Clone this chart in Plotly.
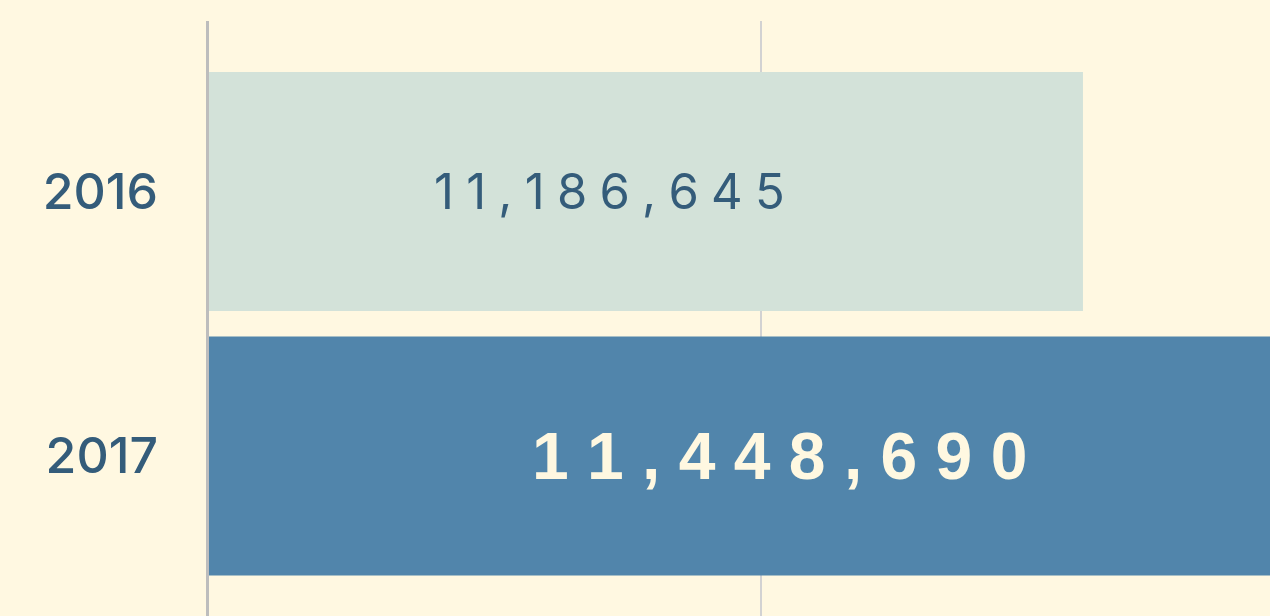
import plotly.graph_objects as go

# ---- data ----
years = ["2016", "2017"]
visitors = [11186645, 11448690]

# ---- styles ----
BG = "#FFF8E1"
BAR_COLORS = ["#D3E2D9", "#5185AB"]
TEXT_COLORS = ["#345C7A", "#FFF8E1"]
TEXT_FONTS = ["Inter", "Liberation Sans"]
TEXT_SIZES = [49, 66]
TEXT_WEIGHTS = ["normal", "bold"]
TEXT_SEPS = ["\u2005", " "]
LABEL_FRAC = [0.458, 0.535]
X_MIN = 10_000_000
X_MAX = 11_440_600
GRID_STEP = 750_000


def spaced(n, sep):
    return sep.join(f"{n:,}")


fig = go.Figure(
    go.Bar(
        y=years,
        x=visitors,
        orientation="h",
        marker=dict(color=BAR_COLORS, line=dict(width=0)),
        hoverinfo="skip",
    )
)

for i, v in enumerate(visitors):
    fig.add_annotation(
        x=X_MIN + (v - X_MIN) * LABEL_FRAC[i],
        y=i,
        xref="x",
        yref="y",
        text=spaced(v, TEXT_SEPS[i]),
        showarrow=False,
        xanchor="center",
        yanchor="middle",
        font=dict(family=TEXT_FONTS[i], size=TEXT_SIZES[i], color=TEXT_COLORS[i],
                  weight=TEXT_WEIGHTS[i]),
    )

fig.update_layout(
    width=1270,
    height=616,
    margin=dict(l=209, r=0, t=21, b=0),
    paper_bgcolor=BG,
    plot_bgcolor=BG,
    bargap=0.0964,
    showlegend=False,
    xaxis=dict(
        range=[X_MIN, X_MAX],
        tick0=X_MIN,
        dtick=GRID_STEP,
        showticklabels=False,
        showgrid=True,
        gridcolor="#D2D2D2",
        gridwidth=2,
        zeroline=False,
        showline=False,
        ticks="",
    ),
    yaxis=dict(
        type="category",
        range=[1.605, -0.6446],
        showgrid=False,
        zeroline=False,
        showline=True,
        linecolor="#BDBDBD",
        linewidth=3,
        ticks="",
        ticklabelstandoff=38,
        tickfont=dict(family="Inter", size=50, color="#345C7A", weight=500),
    ),
)

fig.write_html(
    "out.html",
    config={"displayModeBar": False},
    post_script="document.body.style.margin='0';document.body.style.background='" + BG + "';",
)
